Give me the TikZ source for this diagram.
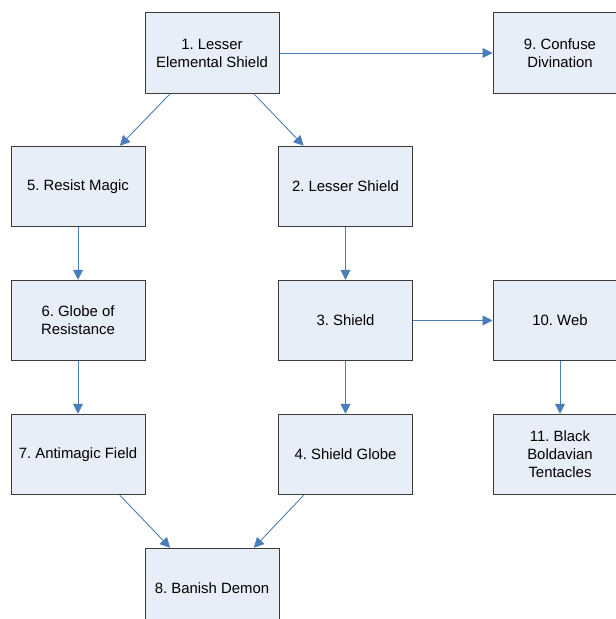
\documentclass[tikz,border=0pt]{standalone}
\usepackage{fontspec}
\setmainfont{Liberation Sans}
\usetikzlibrary{arrows.meta,calc}
\definecolor{boxfill}{RGB}{232,238,247}
\definecolor{boxline}{RGB}{60,60,60}
\definecolor{linkblue}{RGB}{74,126,187}
\frenchspacing
\begin{document}
\begin{tikzpicture}[x=1pt,y=-1pt,
  spell/.style={draw=boxline,line width=1pt,fill=boxfill,minimum width=134pt,minimum height=80.5pt,
    align=center,inner sep=2pt,font=\fontsize{14.9pt}{18pt}\selectfont},
  link/.style={draw=linkblue,line width=0.9pt,-{Triangle[length=10pt,width=10pt]}}]
\useasboundingbox (0,0) rectangle (616,619);
\clip (0,0) rectangle (616,619);
% spell boxes
\node[spell] (n1) at (212,53) {1. Lesser\\Elemental Shield};
\node[spell] (n9) at (560,53) {9. Confuse\\Divination};
\node[spell] (n5) at (78,186.5) {5. Resist Magic};
\node[spell] (n2) at (345.5,186.5) {2. Lesser Shield};
\node[spell] (n6) at (78,320.5) {6. Globe of\\Resistance};
\node[spell] (n3) at (345.5,320.5) {3. Shield};
\node[spell] (n10) at (560,320.5) {10. Web};
\node[spell] (n7) at (78,454.5) {7. Antimagic Field};
\node[spell] (n4) at (345.5,454.5) {4. Shield Globe};
\node[spell] (n11) at (560,454.5) {11. Black\\Boldavian\\Tentacles};
\node[spell] (n8) at (212,588.5) {8. Banish Demon};
% prerequisite links
\draw[link] ($(n1.south west)!0.19!(n1.south east)$) -- ($(n5.north west)!0.81!(n5.north east)$);
\draw[link] ($(n1.south west)!0.81!(n1.south east)$) -- ($(n2.north west)!0.19!(n2.north east)$);
\draw[link] (n1.east) -- (n9.west);
\draw[link] (n5.south) -- (n6.north);
\draw[link] (n6.south) -- (n7.north);
\draw[link] (n2.south) -- (n3.north);
\draw[link] (n3.south) -- (n4.north);
\draw[link] (n3.east) -- (n10.west);
\draw[link] (n10.south) -- (n11.north);
\draw[link] ($(n7.south west)!0.81!(n7.south east)$) -- ($(n8.north west)!0.19!(n8.north east)$);
\draw[link] ($(n4.south west)!0.19!(n4.south east)$) -- ($(n8.north west)!0.81!(n8.north east)$);
\end{tikzpicture}
\end{document}
